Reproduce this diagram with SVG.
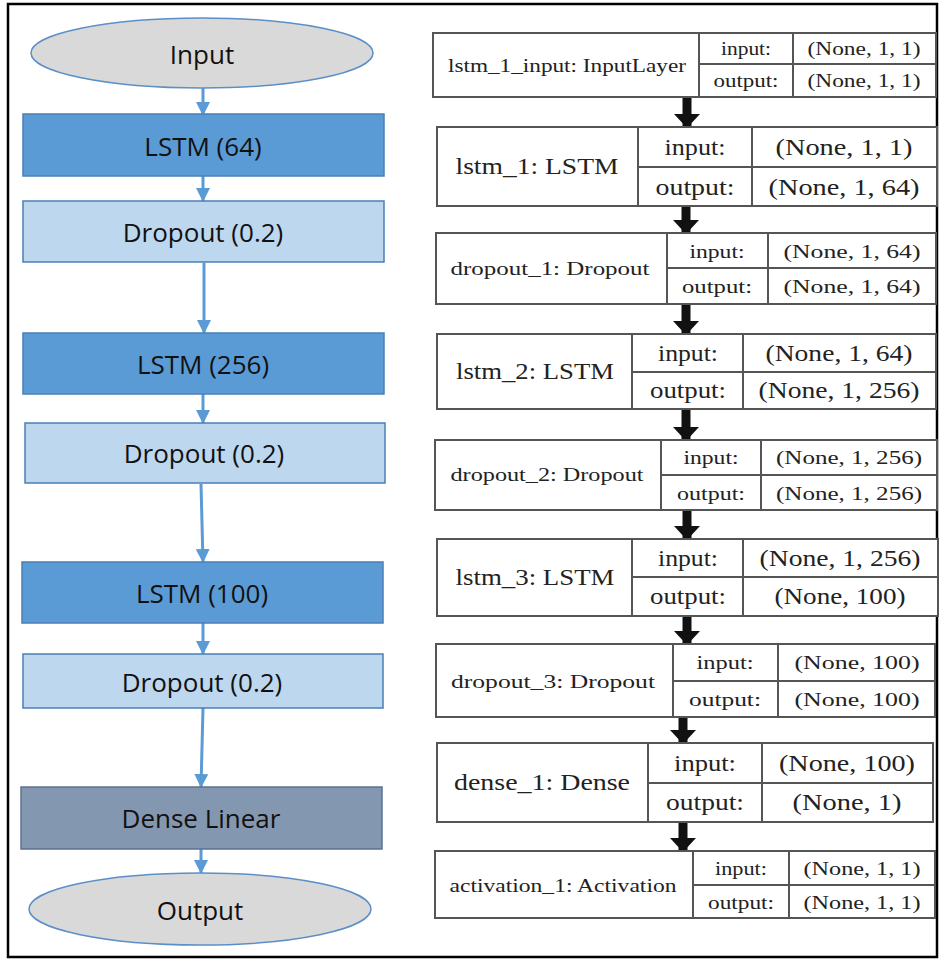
<svg xmlns="http://www.w3.org/2000/svg" width="944" height="960" viewBox="0 0 944 960">
<style>
.bg{fill:#fff}
.frame{fill:none;stroke:#000;stroke-width:2.5}
.ell{fill:#d9d9d9;stroke:#5b8fc7;stroke-width:1.5}
.lstm{fill:#5b9bd5;stroke:#4a7fb5;stroke-width:1.5}
.drop{fill:#bdd7ee;stroke:#4a7fb5;stroke-width:1.5}
.dense{fill:#8497b0;stroke:#5b7190;stroke-width:1.5}
.lt{font-family:"Open Sans","Liberation Sans",sans-serif;font-size:26px;fill:#111;text-anchor:middle;dominant-baseline:central}
.bx{fill:#fff;stroke:#555;stroke-width:2}
.ln{stroke:#555;stroke-width:2}
.rt{font-family:"Liberation Serif","DejaVu Serif",serif;fill:#222;text-anchor:middle;dominant-baseline:central}
.s{font-size:19px}
.b{font-size:23.5px}
.ca{stroke:#5b9bd5;stroke-width:3;fill:none}
.ka{stroke:#111;stroke-width:9;fill:none}
</style>
<defs>
<marker id="bh" markerUnits="userSpaceOnUse" markerWidth="14" markerHeight="14" viewBox="0 0 14 14" refX="13" refY="7" orient="auto">
<path d="M0,0 L14,7 L0,14 Z" fill="#5b9bd5"/>
</marker>
<marker id="kh" markerUnits="userSpaceOnUse" markerWidth="14" markerHeight="26" viewBox="0 0 14 26" refX="13" refY="13" orient="auto">
<path d="M0,0 L14,13 L0,26 Z" fill="#111"/>
</marker>
</defs>
<rect class="bg" x="0" y="0" width="944" height="960"/>
<rect class="frame" x="8" y="4" width="929" height="953"/>

<g id="connectors">
<line class="ca" x1="203" y1="88" x2="203" y2="115" marker-end="url(#bh)"/>
<line class="ca" x1="203" y1="176" x2="203" y2="201" marker-end="url(#bh)"/>
<line class="ca" x1="204" y1="263" x2="204" y2="333" marker-end="url(#bh)"/>
<line class="ca" x1="203" y1="394" x2="203" y2="423" marker-end="url(#bh)"/>
<line class="ca" x1="201" y1="484" x2="203" y2="562" marker-end="url(#bh)"/>
<line class="ca" x1="203" y1="623" x2="203" y2="654" marker-end="url(#bh)"/>
<line class="ca" x1="203" y1="708" x2="201" y2="787" marker-end="url(#bh)"/>
<line class="ca" x1="201" y1="849" x2="201" y2="873" marker-end="url(#bh)"/>

<line class="ka" x1="687" y1="98" x2="687" y2="127" marker-end="url(#kh)"/>
<line class="ka" x1="686" y1="207" x2="686" y2="233" marker-end="url(#kh)"/>
<line class="ka" x1="686" y1="305" x2="686" y2="334" marker-end="url(#kh)"/>
<line class="ka" x1="686" y1="410" x2="686" y2="440" marker-end="url(#kh)"/>
<line class="ka" x1="687" y1="511" x2="687" y2="539" marker-end="url(#kh)"/>
<line class="ka" x1="687" y1="617" x2="687" y2="644" marker-end="url(#kh)"/>
<line class="ka" x1="683" y1="718" x2="683" y2="743" marker-end="url(#kh)"/>
<line class="ka" x1="683" y1="823" x2="683" y2="851" marker-end="url(#kh)"/>
</g>

<g id="input">
<ellipse class="ell" cx="202" cy="53" rx="171" ry="35"/>
<text class="lt" x="202" y="54">Input</text>
</g>
<g id="lstm64">
<rect class="lstm" x="23" y="114" width="361" height="62"/>
<text class="lt" x="203" y="146">LSTM (64)</text>
</g>
<g id="dropout1">
<rect class="drop" x="23" y="201" width="361" height="61"/>
<text class="lt" x="203" y="232">Dropout (0.2)</text>
</g>
<g id="lstm256">
<rect class="lstm" x="23" y="333" width="361" height="61"/>
<text class="lt" x="203" y="364">LSTM (256)</text>
</g>
<g id="dropout2">
<rect class="drop" x="25" y="423" width="360" height="60"/>
<text class="lt" x="204" y="453">Dropout (0.2)</text>
</g>
<g id="lstm100">
<rect class="lstm" x="22" y="562" width="361" height="61"/>
<text class="lt" x="202" y="593">LSTM (100)</text>
</g>
<g id="dropout3">
<rect class="drop" x="23" y="654" width="360" height="54"/>
<text class="lt" x="202" y="682">Dropout (0.2)</text>
</g>
<g id="denselinear">
<rect class="dense" x="21" y="787" width="361" height="62"/>
<text class="lt" x="201" y="818">Dense Linear</text>
</g>
<g id="output">
<ellipse class="ell" cx="200" cy="909" rx="171" ry="36"/>
<text class="lt" x="200" y="910">Output</text>
</g>

<g id="k_input">
<rect class="bx" x="433" y="33" width="503" height="64"/>
<line class="ln" x1="699" y1="33" x2="699" y2="97"/>
<line class="ln" x1="793" y1="33" x2="793" y2="97"/>
<line class="ln" x1="699" y1="64" x2="936" y2="64"/>
<text class="rt s" x="567" y="65" textLength="238" lengthAdjust="spacingAndGlyphs">lstm_1_input: InputLayer</text>
<text class="rt s" x="746" y="48" textLength="50" lengthAdjust="spacingAndGlyphs">input:</text>
<text class="rt s" x="746" y="80" textLength="65" lengthAdjust="spacingAndGlyphs">output:</text>
<text class="rt s" x="864" y="48" textLength="113" lengthAdjust="spacingAndGlyphs">(None, 1, 1)</text>
<text class="rt s" x="864" y="80" textLength="113" lengthAdjust="spacingAndGlyphs">(None, 1, 1)</text>
</g>
<g id="k_lstm1">
<rect class="bx" x="437" y="127" width="500" height="79"/>
<line class="ln" x1="638" y1="127" x2="638" y2="206"/>
<line class="ln" x1="752" y1="127" x2="752" y2="206"/>
<line class="ln" x1="638" y1="167" x2="937" y2="167"/>
<text class="rt b" x="537" y="166" textLength="163" lengthAdjust="spacingAndGlyphs">lstm_1: LSTM</text>
<text class="rt b" x="695" y="147" textLength="61" lengthAdjust="spacingAndGlyphs">input:</text>
<text class="rt b" x="695" y="187" textLength="79" lengthAdjust="spacingAndGlyphs">output:</text>
<text class="rt b" x="844" y="147" textLength="137" lengthAdjust="spacingAndGlyphs">(None, 1, 1)</text>
<text class="rt b" x="844" y="187" textLength="151" lengthAdjust="spacingAndGlyphs">(None, 1, 64)</text>
</g>
<g id="k_dropout1">
<rect class="bx" x="436" y="233" width="500" height="71"/>
<line class="ln" x1="667" y1="233" x2="667" y2="304"/>
<line class="ln" x1="768" y1="233" x2="768" y2="304"/>
<line class="ln" x1="667" y1="268" x2="936" y2="268"/>
<text class="rt s" x="550" y="268" textLength="199" lengthAdjust="spacingAndGlyphs">dropout_1: Dropout</text>
<text class="rt s" x="717" y="251" textLength="55" lengthAdjust="spacingAndGlyphs">input:</text>
<text class="rt s" x="717" y="286" textLength="70" lengthAdjust="spacingAndGlyphs">output:</text>
<text class="rt s" x="852" y="251" textLength="137" lengthAdjust="spacingAndGlyphs">(None, 1, 64)</text>
<text class="rt s" x="852" y="286" textLength="137" lengthAdjust="spacingAndGlyphs">(None, 1, 64)</text>
</g>
<g id="k_lstm2">
<rect class="bx" x="437" y="334" width="499" height="75"/>
<line class="ln" x1="632" y1="334" x2="632" y2="409"/>
<line class="ln" x1="743" y1="334" x2="743" y2="409"/>
<line class="ln" x1="632" y1="372" x2="936" y2="372"/>
<text class="rt b" x="535" y="371" textLength="158" lengthAdjust="spacingAndGlyphs">lstm_2: LSTM</text>
<text class="rt b" x="688" y="353" textLength="60" lengthAdjust="spacingAndGlyphs">input:</text>
<text class="rt b" x="688" y="390" textLength="76" lengthAdjust="spacingAndGlyphs">output:</text>
<text class="rt b" x="839" y="353" textLength="147" lengthAdjust="spacingAndGlyphs">(None, 1, 64)</text>
<text class="rt b" x="839" y="390" textLength="161" lengthAdjust="spacingAndGlyphs">(None, 1, 256)</text>
</g>
<g id="k_dropout2">
<rect class="bx" x="435" y="440" width="502" height="70"/>
<line class="ln" x1="661" y1="440" x2="661" y2="510"/>
<line class="ln" x1="761" y1="440" x2="761" y2="510"/>
<line class="ln" x1="661" y1="475" x2="937" y2="475"/>
<text class="rt s" x="547" y="474" textLength="193" lengthAdjust="spacingAndGlyphs">dropout_2: Dropout</text>
<text class="rt s" x="711" y="457" textLength="55" lengthAdjust="spacingAndGlyphs">input:</text>
<text class="rt s" x="711" y="493" textLength="68" lengthAdjust="spacingAndGlyphs">output:</text>
<text class="rt s" x="849" y="457" textLength="146" lengthAdjust="spacingAndGlyphs">(None, 1, 256)</text>
<text class="rt s" x="849" y="493" textLength="146" lengthAdjust="spacingAndGlyphs">(None, 1, 256)</text>
</g>
<g id="k_lstm3">
<rect class="bx" x="437" y="539" width="501" height="77"/>
<line class="ln" x1="632" y1="539" x2="632" y2="616"/>
<line class="ln" x1="743" y1="539" x2="743" y2="616"/>
<line class="ln" x1="632" y1="577" x2="938" y2="577"/>
<text class="rt b" x="535" y="577" textLength="159" lengthAdjust="spacingAndGlyphs">lstm_3: LSTM</text>
<text class="rt b" x="688" y="558" textLength="60" lengthAdjust="spacingAndGlyphs">input:</text>
<text class="rt b" x="688" y="596" textLength="76" lengthAdjust="spacingAndGlyphs">output:</text>
<text class="rt b" x="840" y="558" textLength="161" lengthAdjust="spacingAndGlyphs">(None, 1, 256)</text>
<text class="rt b" x="840" y="596" textLength="131" lengthAdjust="spacingAndGlyphs">(None, 100)</text>
</g>
<g id="k_dropout3">
<rect class="bx" x="436" y="644" width="499" height="73"/>
<line class="ln" x1="673" y1="644" x2="673" y2="717"/>
<line class="ln" x1="778" y1="644" x2="778" y2="717"/>
<line class="ln" x1="673" y1="681" x2="935" y2="681"/>
<text class="rt s" x="553" y="681" textLength="204" lengthAdjust="spacingAndGlyphs">dropout_3: Dropout</text>
<text class="rt s" x="725" y="662" textLength="57" lengthAdjust="spacingAndGlyphs">input:</text>
<text class="rt s" x="725" y="699" textLength="72" lengthAdjust="spacingAndGlyphs">output:</text>
<text class="rt s" x="857" y="662" textLength="125" lengthAdjust="spacingAndGlyphs">(None, 100)</text>
<text class="rt s" x="857" y="699" textLength="125" lengthAdjust="spacingAndGlyphs">(None, 100)</text>
</g>
<g id="k_dense1">
<rect class="bx" x="437" y="743" width="496" height="79"/>
<line class="ln" x1="648" y1="743" x2="648" y2="822"/>
<line class="ln" x1="762" y1="743" x2="762" y2="822"/>
<line class="ln" x1="648" y1="783" x2="933" y2="783"/>
<text class="rt b" x="542" y="782" textLength="176" lengthAdjust="spacingAndGlyphs">dense_1: Dense</text>
<text class="rt b" x="705" y="763" textLength="62" lengthAdjust="spacingAndGlyphs">input:</text>
<text class="rt b" x="705" y="802" textLength="78" lengthAdjust="spacingAndGlyphs">output:</text>
<text class="rt b" x="847" y="763" textLength="136" lengthAdjust="spacingAndGlyphs">(None, 100)</text>
<text class="rt b" x="847" y="802" textLength="109" lengthAdjust="spacingAndGlyphs">(None, 1)</text>
</g>
<g id="k_activation1">
<rect class="bx" x="435" y="851" width="500" height="67"/>
<line class="ln" x1="693" y1="851" x2="693" y2="918"/>
<line class="ln" x1="789" y1="851" x2="789" y2="918"/>
<line class="ln" x1="693" y1="885" x2="935" y2="885"/>
<text class="rt s" x="563" y="885" textLength="227" lengthAdjust="spacingAndGlyphs">activation_1: Activation</text>
<text class="rt s" x="741" y="868" textLength="52" lengthAdjust="spacingAndGlyphs">input:</text>
<text class="rt s" x="741" y="902" textLength="66" lengthAdjust="spacingAndGlyphs">output:</text>
<text class="rt s" x="862" y="868" textLength="117" lengthAdjust="spacingAndGlyphs">(None, 1, 1)</text>
<text class="rt s" x="862" y="902" textLength="117" lengthAdjust="spacingAndGlyphs">(None, 1, 1)</text>
</g>
</svg>
